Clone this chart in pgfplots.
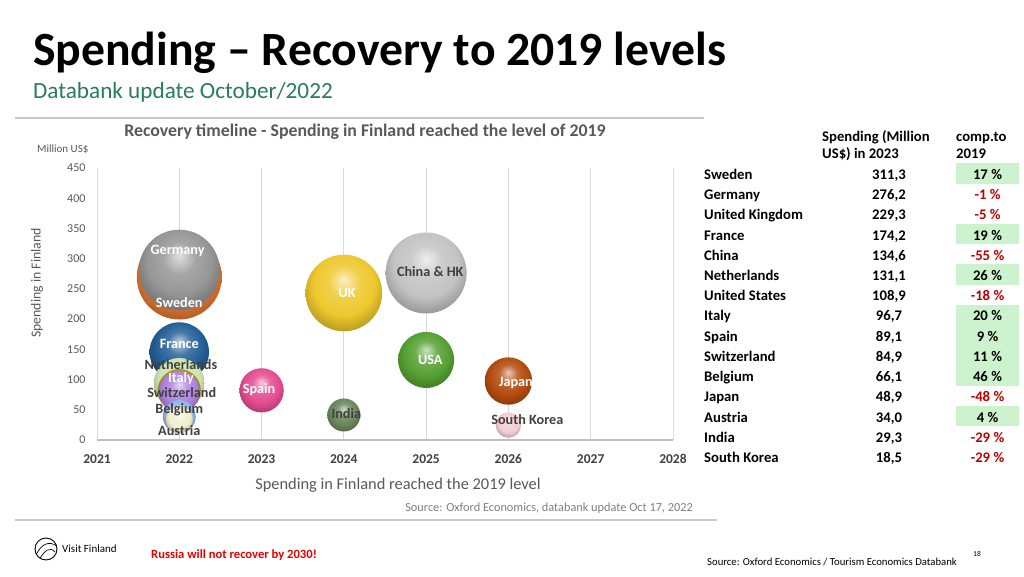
\documentclass[border=0pt]{standalone}
\usepackage{pgfplots}
\pgfplotsset{compat=1.18}
\usepackage{fontspec}
\setmainfont{Carlito}
\makeatletter
\pgfdeclareradialshading[tikz@ball]{ball}{\pgfqpoint{0bp}{9bp}}{%
  color(0bp)=(tikz@ball!30!white);
  color(10bp)=(tikz@ball!85!white);
  color(20bp)=(tikz@ball);
  color(30bp)=(tikz@ball!75!black);
  color(50bp)=(tikz@ball!65!black)}
\makeatother
\definecolor{txtgray}{RGB}{89,89,89}
\definecolor{dkgray}{RGB}{64,64,64}
\definecolor{gridgray}{RGB}{217,217,217}
\definecolor{axisgray}{RGB}{191,191,191}
\definecolor{subgreen}{RGB}{40,125,90}
\definecolor{posgreen}{RGB}{204,242,206}
\definecolor{negred}{RGB}{192,0,0}
\definecolor{russiared}{RGB}{230,0,0}
\definecolor{linegray}{RGB}{200,200,200}
\definecolor{srcgray}{RGB}{127,127,127}
% bubble colours
\definecolor{cSweden}{RGB}{228,120,50}
\definecolor{cGermany}{RGB}{150,150,150}
\definecolor{cUK}{RGB}{238,200,45}
\definecolor{cChina}{RGB}{195,195,195}
\definecolor{cFrance}{RGB}{35,95,150}
\definecolor{cUSA}{RGB}{85,160,50}
\definecolor{cNeth}{RGB}{205,228,175}
\definecolor{cItaly}{RGB}{180,145,35}
\definecolor{cSwitz}{RGB}{175,130,225}
\definecolor{cBelg}{RGB}{145,180,230}
\definecolor{cAustria}{RGB}{242,238,205}
\definecolor{cSpain}{RGB}{228,75,145}
\definecolor{cIndia}{RGB}{105,135,90}
\definecolor{cJapan}{RGB}{180,75,15}
\definecolor{cKorea}{RGB}{240,205,210}
\newcommand{\fs}[1]{\fontsize{#1pt}{#1pt}\selectfont}
\tikzset{lab/.style={font=\fs{14.2}\bfseries, anchor=base, yshift=-4.7pt, inner sep=0}}
\pgfplotsset{bub/.style n args={2}{only marks, mark=ball, mark size=#1pt,
  mark options={ball color=#2, draw opacity=0}}}
\begin{document}
\begin{tikzpicture}[x=1pt,y=1pt]
\useasboundingbox (0,0) rectangle (1024,576);
\fill[white] (0,0) rectangle (1024,576);
% Title
\node[anchor=base west, inner sep=0, font=\fs{47.7}\bfseries] at (33,510) {Spending – Recovery to 2019 levels};
\node[anchor=base west, inner sep=0, font=\fs{23.2}, text=subgreen] at (33,477) {Databank update October/2022};
\draw[linegray, line width=1.2pt] (15,458) -- (704,458);
\draw[linegray, line width=1.2pt] (15,56) -- (717,56);
% chart texts
\node[anchor=base, inner sep=0, font=\fs{17.8}\bfseries, text=txtgray] at (365,439) {Recovery timeline - Spending in Finland reached the level of 2019};
\node[anchor=base west, inner sep=0, font=\fs{11}, text=txtgray] at (37,423) {Million US\$};
\node[rotate=90, inner sep=0, font=\fs{13.8}, text=txtgray] at (37,293) {Spending in Finland};
\node[anchor=base, inner sep=0, font=\fs{16.4}, text=txtgray] at (398,87) {Spending in Finland reached the 2019 level};
\node[anchor=base east, inner sep=0, font=\fs{12.3}, text=srcgray] at (693,65) {Source: Oxford Economics, databank update Oct 17, 2022};
% axis
\begin{axis}[
  at={(97pt,136pt)}, anchor=south west,
  scale only axis, width=576pt, height=272pt,
  xmin=2021, xmax=2028, ymin=0, ymax=450,
  xtick={2021,2022,...,2028}, ytick={0,50,...,450},
  xticklabel style={anchor=base, yshift=-23pt, font=\fs{13.5}\bfseries, text=dkgray},
  yticklabel style={anchor=east, xshift=-8pt, font=\fs{12}, text=txtgray},
  /pgf/number format/assume math mode=true,
  /pgf/number format/1000 sep={},
  major tick length=0pt,
  xmajorgrids, grid style={draw=gridgray, line width=0.8pt},
  axis x line*=bottom, axis y line*=left,
  x axis line style={draw=axisgray, line width=1.3pt, -},
  y axis line style={draw=gridgray, line width=0.8pt, -},
  clip=false,
]
\addplot[bub={42.5}{cSweden}] coordinates {(2022,269.7)};
\addplot[bub={40.3}{cGermany}] coordinates {(2022,281.3)};
\addplot[bub={38.3}{cUK}] coordinates {(2024,243.2)};
\addplot[bub={29.7}{cFrance}] coordinates {(2022,145.6)};
\addplot[bub={40.5}{cChina}] coordinates {(2025,276.3)};
\addplot[bub={25.5}{cNeth}] coordinates {(2022,93.5)};
\addplot[bub={28}{cUSA}] coordinates {(2025,132.4)};
\addplot[bub={21.5}{cItaly}] coordinates {(2022,81.9)};
\addplot[bub={22.1}{cSpain}] coordinates {(2023,82.2)};
\addplot[bub={20.3}{cSwitz}] coordinates {(2022,79.9)};
\addplot[bub={16.5}{cBelg}] coordinates {(2022,38.9)};
\addplot[bub={23.7}{cJapan}] coordinates {(2026,97.6)};
\addplot[bub={13.5}{cAustria}] coordinates {(2022,33.9)};
\addplot[bub={16.5}{cIndia}] coordinates {(2024,41.4)};
\addplot[bub={12.7}{cKorea}] coordinates {(2026,24.8)};
% label anchors
\coordinate (lGer) at (axis cs:2021.98,314.3);
\coordinate (lSwe) at (axis cs:2022,226.7);
\coordinate (lFra) at (axis cs:2022,158.8);
\coordinate (lNet) at (axis cs:2022.02,124.1);
\coordinate (lIta) at (axis cs:2022.02,102.2);
\coordinate (lSwi) at (axis cs:2022.03,78.4);
\coordinate (lBel) at (axis cs:2022,51.3);
\coordinate (lAut) at (axis cs:2022,14.9);
\coordinate (lSpa) at (axis cs:2022.97,84.4);
\coordinate (lUK) at (axis cs:2024.04,243.2);
\coordinate (lChi) at (axis cs:2025.05,277.9);
\coordinate (lUSA) at (axis cs:2025.05,132.4);
\coordinate (lInd) at (axis cs:2024.03,43);
\coordinate (lJap) at (axis cs:2026.09,96);
\coordinate (lKor) at (axis cs:2026.23,33.1);
\end{axis}
% labels (on top of bubbles)
\node[lab, text=white] at (lGer) {Germany};
\node[lab, text=white] at (lSwe) {Sweden};
\node[lab, text=white] at (lFra) {France};
\node[lab, text=dkgray] at (lNet) {Netherlands};
\node[lab, text=white] at (lIta) {Italy};
\node[lab, text=dkgray] at (lSwi) {Switzerland};
\node[lab, text=dkgray] at (lBel) {Belgium};
\node[lab, text=dkgray] at (lAut) {Austria};
\node[lab, text=white] at (lSpa) {Spain};
\node[lab, text=white] at (lUK) {UK};
\node[lab, text=dkgray] at (lChi) {China \& HK};
\node[lab, text=white] at (lUSA) {USA};
\node[lab, text=dkgray] at (lInd) {India};
\node[lab, text=white] at (lJap) {Japan};
\node[lab, text=dkgray] at (lKor) {South Korea};
% table
\begin{scope}[font=\fs{14.7}\bfseries]
\node[anchor=base west, inner sep=0] at (822,434.3) {Spending (Million};
\node[anchor=base west, inner sep=0] at (822,417) {US\$) in 2023};
\node[anchor=base west, inner sep=0] at (956,434.3) {comp.to};
\node[anchor=base west, inner sep=0] at (956,417) {2019};
% green cells: top = 412.7 - (i-1)*20.24
\fill[posgreen] (956,412.7) rectangle (1019,392.46);   % Sweden
\fill[posgreen] (956,351.98) rectangle (1019,331.74);  % France
\fill[posgreen] (956,311.5) rectangle (1019,291.26);   % Netherlands
\fill[posgreen] (956,271.02) rectangle (1019,190.06);  % Italy..Belgium
\fill[posgreen] (956,169.82) rectangle (1019,149.58);  % Austria
\foreach \n/\v/\p/\s [count=\i from 0] in {
  Sweden/{311,3}/{17 \%}/1,
  Germany/{276,2}/{-1 \%}/0,
  United Kingdom/{229,3}/{-5 \%}/0,
  France/{174,2}/{19 \%}/1,
  China/{134,6}/{-55 \%}/0,
  Netherlands/{131,1}/{26 \%}/1,
  United States/{108,9}/{-18 \%}/0,
  Italy/{96,7}/{20 \%}/1,
  Spain/{89,1}/{9 \%}/1,
  Switzerland/{84,9}/{11 \%}/1,
  Belgium/{66,1}/{46 \%}/1,
  Japan/{48,9}/{-48 \%}/0,
  Austria/{34,0}/{4 \%}/1,
  India/{29,3}/{-29 \%}/0,
  South Korea/{18,5}/{-29 \%}/0}{
  \pgfmathsetmacro{\yy}{396.7-\i*20.24}
  \node[anchor=base west, inner sep=0] at (704,\yy) {\n};
  \node[anchor=base, inner sep=0] at (889,\yy) {\v};
  \ifnum\s=1
    \node[anchor=base, inner sep=0, text=black] at (987.5,\yy) {\p};
  \else
    \node[anchor=base, inner sep=0, text=negred] at (987.5,\yy) {\p};
  \fi
}
\end{scope}
% footer
\draw[line width=0.9pt] (46,27) circle (11);
\draw[line width=0.7pt] (36.5,22) .. controls (42,33) and (50,35) .. (56.5,30);
\draw[line width=0.7pt] (40,17.5) .. controls (44,25) and (50,30) .. (55,24);
\node[anchor=base west, inner sep=0, font=\fs{11}] at (62,24) {Visit Finland};
\node[anchor=base west, inner sep=0, font=\fs{12.6}\bfseries, text=russiared] at (151,18) {Russia will not recover by 2030!};
\node[anchor=base west, inner sep=0, font=\fs{10.7}] at (707,11) {Source: Oxford Economics / Tourism Economics Databank};
\node[anchor=base west, inner sep=0, font=\fs{7.5}] at (973,20) {18};
\end{tikzpicture}
\end{document}
